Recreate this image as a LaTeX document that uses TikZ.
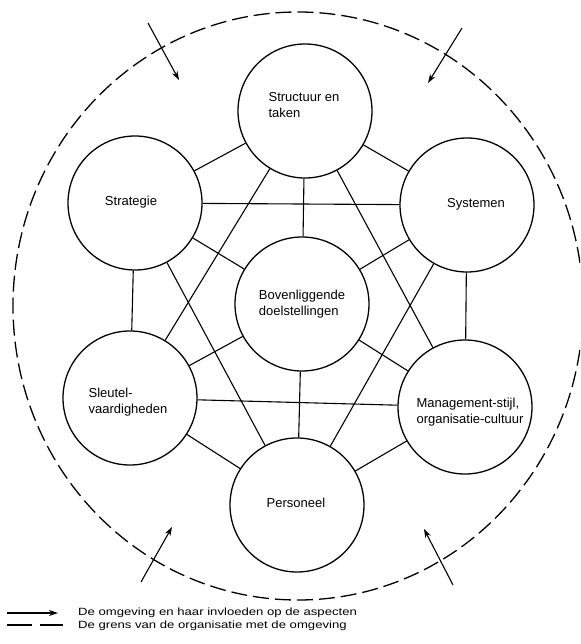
\documentclass[tikz,border=0pt]{standalone}
\usepackage{fontspec}
\usepackage{graphicx}
\setmainfont{Liberation Sans}
\usetikzlibrary{arrows.meta}
\begin{document}
\begin{tikzpicture}[x=1pt,y=-1pt,
  bubble/.style={draw, circle, line width=1.3pt, minimum size=134pt, inner sep=0pt},
  lbl/.style={font=\fontsize{13}{16}\selectfont, align=left, inner sep=0pt},
  legendtxt/.style={font=\fontsize{10.5}{12}\selectfont, inner sep=0pt, anchor=west},
  link/.style={line width=1.1pt},
  infl/.style={line width=1.1pt, -{Stealth[length=9pt,width=6pt]}},
  boundary/.style={line width=1.3pt, dash pattern=on 16pt off 6pt}]
\useasboundingbox (0,0) rectangle (580,644);
\begin{scope}
  \clip (0,0) rectangle (580,644);
  \draw[boundary] (298,306) ellipse [x radius=285, y radius=294];
\end{scope}

% circles
\node[bubble] (st) at (305,111) {};
\node[bubble] (sg) at (135,203) {};
\node[bubble] (sy) at (467,205) {};
\node[bubble] (bo) at (302,304) {};
\node[bubble] (sl) at (130,398) {};
\node[bubble] (ma) at (465,407) {};
\node[bubble] (pe) at (297,505) {};

% labels
\node[lbl] (tst) at (304,105) {Structuur en\\taken};
\node[lbl] (tsg) at (131,202) {Strategie};
\node[lbl] (tsy) at (476,204) {Systemen};
\node[lbl] (tbo) at (302,304) {Bovenliggende\\doelstellingen};
\node[lbl] (tsl) at (128,402) {Sleutel-\\vaardigheden};
\node[lbl] (tma) at (470,412) {Management-stijl,\\organisatie-cultuur};
\node[lbl] (tpe) at (296,503) {Personeel};

% links: neighbours
\draw[link] (st) -- (sg);
\draw[link] (st) -- (sy);
\draw[link] (sg) -- (sl);
\draw[link] (sy) -- (ma);
\draw[link] (sl) -- (pe);
\draw[link] (ma) -- (pe);
% links: centre
\draw[link] (bo) -- (st);
\draw[link] (bo) -- (sg);
\draw[link] (bo) -- (sy);
\draw[link] (bo) -- (sl);
\draw[link] (bo) -- (ma);
\draw[link] (bo) -- (pe);
% links: skip one
\draw[link] (sg) -- (sy);
\draw[link] (sl) -- (ma);
\draw[link] (st) -- (sl);
\draw[link] (st) -- (ma);
\draw[link] (sg) -- (pe);
\draw[link] (sy) -- (pe);

% influences from the environment
\coordinate (a1s) at (148,23);  \coordinate (a1e) at (179,80);
\coordinate (a2s) at (462,28);  \coordinate (a2e) at (428,83);
\coordinate (a3s) at (141,582); \coordinate (a3e) at (172,527);
\coordinate (a4s) at (453,585); \coordinate (a4e) at (424,529);
\draw[infl] (a1s) -- (a1e);
\draw[infl] (a2s) -- (a2e);
\draw[infl] (a3s) -- (a3e);
\draw[infl] (a4s) -- (a4e);

% legend
\coordinate (l1a) at (7,613);  \coordinate (l1b) at (58,613);
\coordinate (l2a) at (7,625);  \coordinate (l2b) at (63,625);
\draw[infl] (l1a) -- (l1b);
\draw[line width=1.1pt, dash pattern=on 25pt off 8pt] (l2a) -- (l2b);
\node[legendtxt] (lt1) at (78,613) {\scalebox{1.25}[1]{De omgeving en haar invloeden op de aspecten}};
\node[legendtxt] (lt2) at (78,626) {\scalebox{1.25}[1]{De grens van de organisatie met de omgeving}};
\end{tikzpicture}
\end{document}
